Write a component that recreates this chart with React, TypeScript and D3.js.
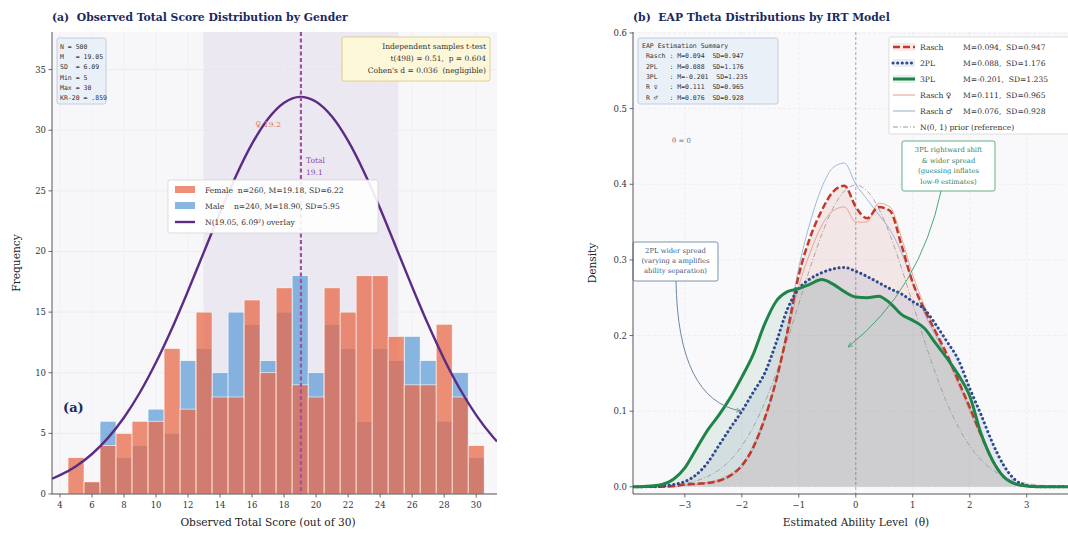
import React from 'react';
import * as d3 from 'd3';

// ---- panel (a) data ----
const scores = [5, 6, 7, 8, 9, 10, 11, 12, 13, 14, 15, 16, 17, 18, 19, 20, 21, 22, 23, 24, 25, 26, 27, 28, 29, 30];
const femaleCounts = [3, 1, 4, 5, 6, 6, 12, 7, 15, 8, 8, 16, 10, 17, 9, 8, 17, 15, 18, 18, 13, 9, 9, 14, 8, 4];
const maleCounts = [0, 1, 6, 3, 4, 7, 5, 11, 12, 10, 15, 14, 11, 15, 18, 10, 14, 12, 6, 12, 11, 13, 11, 6, 10, 3];
const overlayX = [3.5, 4, 5, 6, 7, 8, 9, 10, 11, 12, 13, 14, 15, 16, 17, 18, 19, 20, 21, 22, 23, 24, 25, 26, 27, 28, 29, 30, 31, 31.3];
const overlayY = [1.26, 1.55, 2.29, 3.3, 4.63, 6.31, 8.39, 10.86, 13.67, 16.76, 19.99, 23.22, 26.25, 28.89, 30.95, 32.27, 32.75, 32.35, 31.11, 29.12, 26.54, 23.54, 20.32, 17.08, 13.97, 11.12, 8.62, 6.51, 4.78, 4.33];
const xTicksA = [4, 6, 8, 10, 12, 14, 16, 18, 20, 22, 24, 26, 28, 30];
const yTicksA = [0, 5, 10, 15, 20, 25, 30, 35];
const totalMean = 19.05;
const totalSD = 6.09;

// ---- panel (b) data ----
const theta = [-4, -3.8, -3.6, -3.4, -3.2, -3, -2.8, -2.6, -2.4, -2.2, -2, -1.8, -1.6, -1.4, -1.2, -1, -0.8, -0.6, -0.4, -0.2, 0,
  0.2, 0.4, 0.6, 0.8, 1, 1.2, 1.4, 1.6, 1.8, 2, 2.2, 2.4, 2.6, 2.8, 3, 3.2, 3.4, 3.6, 3.8, 4];
const rasch = [0, 0, 0, 0, 0.001, 0.003, 0.004, 0.005, 0.008, 0.015, 0.028, 0.052, 0.09, 0.14, 0.205, 0.28, 0.33, 0.365, 0.39, 0.398, 0.37,
  0.355, 0.37, 0.365, 0.32, 0.27, 0.235, 0.205, 0.175, 0.14, 0.105, 0.068, 0.035, 0.013, 0.004, 0.001, 0, 0, 0, 0, 0];
const twoPL = [0, 0, 0, 0.001, 0.003, 0.007, 0.016, 0.032, 0.055, 0.078, 0.1, 0.125, 0.15, 0.19, 0.235, 0.262, 0.275, 0.283, 0.288, 0.29, 0.285,
  0.278, 0.27, 0.262, 0.255, 0.245, 0.235, 0.215, 0.192, 0.168, 0.13, 0.095, 0.058, 0.028, 0.009, 0.002, 0, 0, 0, 0, 0];
const threePL = [0, 0, 0.001, 0.003, 0.01, 0.025, 0.05, 0.075, 0.095, 0.118, 0.145, 0.175, 0.215, 0.245, 0.258, 0.262, 0.268, 0.274, 0.268, 0.258, 0.251,
  0.25, 0.252, 0.243, 0.228, 0.22, 0.21, 0.19, 0.17, 0.148, 0.12, 0.07, 0.035, 0.013, 0.004, 0.001, 0, 0, 0, 0, 0];
const raschF = [0, 0, 0, 0, 0, 0.002, 0.004, 0.006, 0.01, 0.017, 0.03, 0.055, 0.092, 0.14, 0.2, 0.265, 0.31, 0.345, 0.365, 0.37, 0.35,
  0.35, 0.375, 0.37, 0.33, 0.28, 0.24, 0.205, 0.17, 0.135, 0.1, 0.065, 0.034, 0.013, 0.004, 0.001, 0, 0, 0, 0, 0];
const raschM = [0, 0, 0, 0, 0, 0.002, 0.003, 0.005, 0.008, 0.014, 0.026, 0.05, 0.088, 0.14, 0.21, 0.29, 0.35, 0.395, 0.422, 0.428, 0.4,
  0.38, 0.36, 0.34, 0.31, 0.27, 0.23, 0.2, 0.17, 0.14, 0.105, 0.07, 0.037, 0.014, 0.004, 0.001, 0, 0, 0, 0, 0];
const prior = [0.0001, 0.0003, 0.0006, 0.0012, 0.0024, 0.0044, 0.0079, 0.0136, 0.0224, 0.0355, 0.054, 0.079, 0.1109, 0.1497, 0.1942, 0.242, 0.2897, 0.3332, 0.3683, 0.391, 0.3989,
  0.391, 0.3683, 0.3332, 0.2897, 0.242, 0.1942, 0.1497, 0.1109, 0.079, 0.054, 0.0355, 0.0224, 0.0136, 0.0079, 0.0044, 0.0024, 0.0012, 0.0006, 0.0003, 0.0001];
const xTicksB = [-3, -2, -1, 0, 1, 2, 3];
const yTicksB = [0, 0.1, 0.2, 0.3, 0.4, 0.5, 0.6];

const FONT = '"DejaVu Serif", serif';
const MONO = '"DejaVu Sans Mono", monospace';
const NAVY = '#1b2a5e';

const models = [
  { name: 'Rasch', stats: 'M=0.094,  SD=0.947', values: rasch, color: '#c0392b', width: 2.5, dash: '7,3', fill: true },
  { name: '2PL', stats: 'M=0.088,  SD=1.176', values: twoPL, color: '#2e4a8c', width: 3, dash: '0.1,4.5', fill: true },
  { name: '3PL', stats: 'M=-0.201,  SD=1.235', values: threePL, color: '#1e8449', width: 3, dash: '', fill: true },
  { name: 'Rasch ♀', stats: 'M=0.111,  SD=0.965', values: raschF, color: '#e59a86', width: 1, dash: '', fill: false },
  { name: 'Rasch ♂', stats: 'M=0.076,  SD=0.928', values: raschM, color: '#8eafd0', width: 1, dash: '', fill: false },
  { name: 'N(0, 1) prior (reference)', stats: '', values: prior, color: '#999999', width: 1, dash: '5,2,1,2', fill: false },
];

export default function App() {
  // panel (a)
  const xA = d3.scaleLinear().domain([3.5, 31.3]).range([52, 497]);
  const yA = d3.scaleLinear().domain([0, 38.1]).range([494, 32]);
  const overlayLine = d3.line<number>().x((_, i) => xA(overlayX[i])).y(d => yA(d)).curve(d3.curveMonotoneX);

  // panel (b)
  const xB = d3.scaleLinear().domain([-3.91, 3.9]).range([633, 1078]);
  const yB = d3.scaleLinear().domain([-0.0095, 0.6013]).range([494, 32]);
  const lineB = d3.line<number>().x((_, i) => xB(theta[i])).y(d => yB(d)).curve(d3.curveMonotoneX);
  const areaB = d3.area<number>().x((_, i) => xB(theta[i])).y0(yB(0)).y1(d => yB(d)).curve(d3.curveMonotoneX);

  const bw = xA(1) - xA(0);

  return (
    <svg width={1068} height={538} style={{ position: 'absolute', left: 0, top: 0, background: '#fff' }} fontFamily={FONT}>
      <defs>
        <clipPath id="clipA"><rect x={52} y={32} width={445} height={462} /></clipPath>
        <clipPath id="clipB"><rect x={633} y={32} width={445} height={462} /></clipPath>
        <marker id="arrBlue" viewBox="0 0 10 10" refX="9" refY="5" markerWidth="6" markerHeight="6" orient="auto">
          <path d="M0,1 L9,5 L0,9" fill="none" stroke="#5d7a9a" strokeWidth={1.2} />
        </marker>
        <marker id="arrGreen" viewBox="0 0 10 10" refX="9" refY="5" markerWidth="6" markerHeight="6" orient="auto">
          <path d="M0,1 L9,5 L0,9" fill="none" stroke="#3c9a6a" strokeWidth={1.2} />
        </marker>
      </defs>

      {/* ===== panel (a) ===== */}
      <text x={52} y={21} fontSize={10.8} fontWeight="bold" fill={NAVY} xmlSpace="preserve">(a)  Observed Total Score Distribution by Gender</text>
      <rect x={52} y={32} width={445} height={462} fill="#f7f7f9" />
      <rect x={xA(totalMean - totalSD)} y={32} width={xA(totalMean + totalSD) - xA(totalMean - totalSD)} height={462} fill="#ebe8f2" />
      {yTicksA.map(t => <line key={'ga' + t} x1={52} x2={497} y1={yA(t)} y2={yA(t)} stroke="#e4e4ea" strokeWidth={0.6} />)}
      {xTicksA.map(t => <line key={'gv' + t} x1={xA(t)} x2={xA(t)} y1={32} y2={494} stroke="#ececf0" strokeWidth={0.6} />)}
      <g clipPath="url(#clipA)">
        {scores.map((s, i) => (
          <rect key={'m' + s} x={xA(s - 0.5)} y={yA(maleCounts[i])} width={bw} height={yA(0) - yA(maleCounts[i])}
            fill="#5b9bd5" fillOpacity={0.72} stroke="#fff" strokeWidth={0.6} />
        ))}
        {scores.map((s, i) => (
          <rect key={'f' + s} x={xA(s - 0.5)} y={yA(femaleCounts[i])} width={bw} height={yA(0) - yA(femaleCounts[i])}
            fill="#e8694a" fillOpacity={0.75} stroke="#fff" strokeWidth={0.6} />
        ))}
        <path d={overlayLine(overlayY) || ''} fill="none" stroke="#5b2c83" strokeWidth={2.4} />
        <line x1={xA(totalMean)} x2={xA(totalMean)} y1={32} y2={494} stroke="#a4509f" strokeWidth={2.2} strokeDasharray="4,2.5" />
      </g>
      <text x={255} y={127} fontSize={8} fill="#e07a55">♀ 19.2</text>
      <text x={306} y={163} fontSize={7.5} fill="#8e44ad">Total</text>
      <text x={306} y={175} fontSize={7.5} fill="#8e44ad">19.1</text>
      <text x={63} y={412} fontSize={13} fontWeight="bold" fill={NAVY}>(a)</text>

      {/* stats box (a) */}
      <rect x={57} y={38} width={49} height={66} fill="#eaf0f8" stroke="#b8c4d6" strokeWidth={0.8} rx={2} />
      {['N = 500', 'M   = 19.05', 'SD  = 6.09', 'Min = 5', 'Max = 30', 'KR-20 = .859'].map((s, i) => (
        <text key={s} x={60} y={49 + i * 10.2} fontSize={6.5} fontFamily={MONO} fill="#333" xmlSpace="preserve">{s}</text>
      ))}

      {/* t-test box */}
      <rect x={342} y={37} width={148} height={44} fill="#fdf7d9" stroke="#d6c77e" strokeWidth={0.8} rx={2} />
      {['Independent samples t-test', 't(498) = 0.51,  p = 0.604', "Cohen's d = 0.036  (negligible)"].map((s, i) => (
        <text key={s} x={486} y={49 + i * 12} fontSize={7.5} textAnchor="end" fill="#333" xmlSpace="preserve">{s}</text>
      ))}

      {/* legend (a) */}
      <rect x={168} y={180} width={210} height={53} fill="#ffffff" fillOpacity={0.9} stroke="#d0d0d0" strokeWidth={0.7} rx={2} />
      <rect x={175} y={186} width={20} height={7} fill="#e8694a" fillOpacity={0.75} />
      <rect x={175} y={202} width={20} height={7} fill="#5b9bd5" fillOpacity={0.72} />
      <line x1={175} x2={195} y1={222} y2={222} stroke="#5b2c83" strokeWidth={2.4} />
      <text x={205} y={193} fontSize={7.6} fill="#333" xmlSpace="preserve">Female  n=260, M=19.18, SD=6.22</text>
      <text x={205} y={209} fontSize={7.6} fill="#333" xmlSpace="preserve">Male    n=240, M=18.90, SD=5.95</text>
      <text x={205} y={225} fontSize={7.6} fill="#333">N(19.05, 6.09²) overlay</text>

      {/* axes (a) */}
      <line x1={52} x2={52} y1={32} y2={494} stroke="#444" strokeWidth={0.9} />
      <line x1={52} x2={497} y1={494} y2={494} stroke="#444" strokeWidth={0.9} />
      {yTicksA.map(t => (
        <g key={'ya' + t}>
          <line x1={48.5} x2={52} y1={yA(t)} y2={yA(t)} stroke="#444" strokeWidth={0.8} />
          <text x={46} y={yA(t) + 3} fontSize={8.5} textAnchor="end" fill="#333">{t}</text>
        </g>
      ))}
      {xTicksA.map(t => (
        <g key={'xa' + t}>
          <line x1={xA(t)} x2={xA(t)} y1={494} y2={497.5} stroke="#444" strokeWidth={0.8} />
          <text x={xA(t)} y={508} fontSize={8.5} textAnchor="middle" fill="#333">{t}</text>
        </g>
      ))}
      <text x={268} y={526} fontSize={10.6} textAnchor="middle" fill="#222">Observed Total Score (out of 30)</text>
      <text transform="translate(20,263) rotate(-90)" fontSize={10.6} textAnchor="middle" fill="#222">Frequency</text>

      {/* ===== panel (b) ===== */}
      <text x={633} y={21} fontSize={10.8} fontWeight="bold" fill={NAVY} xmlSpace="preserve">(b)  EAP Theta Distributions by IRT Model</text>
      <rect x={633} y={32} width={445} height={462} fill="#f9f9fb" />
      {yTicksB.map(t => <line key={'gb' + t} x1={633} x2={1078} y1={yB(t)} y2={yB(t)} stroke="#e6e6ec" strokeWidth={0.6} strokeDasharray="3,2" />)}
      {xTicksB.map(t => <line key={'gbv' + t} x1={xB(t)} x2={xB(t)} y1={32} y2={494} stroke="#e6e6ec" strokeWidth={0.6} strokeDasharray="3,2" />)}
      <line x1={xB(0)} x2={xB(0)} y1={32} y2={494} stroke="#a0a0a0" strokeWidth={0.9} strokeDasharray="3,2" />
      <g clipPath="url(#clipB)">
        {models.filter(m => m.fill).map(m => (
          <path key={'a' + m.name} d={areaB(m.values) || ''} fill={m.color} fillOpacity={0.095} />
        ))}
        {[5, 4, 3, 0, 1, 2].map(k => {
          const m = models[k];
          return (
            <path key={'l' + m.name} d={lineB(m.values) || ''} fill="none" stroke={m.color} strokeWidth={m.width}
              strokeDasharray={m.dash || undefined} strokeLinecap={m.name === '2PL' ? 'round' : 'butt'} strokeOpacity={m.fill ? 1 : 0.85} />
          );
        })}
      </g>
      <text x={672} y={143} fontSize={7} fill="#777">θ = 0</text>

      {/* stats box (b) */}
      <rect x={638} y={38} width={140} height={66} fill="#eaf0f8" stroke="#b8c4d6" strokeWidth={0.8} rx={2} />
      {['EAP Estimation Summary', ' Rasch : M=0.094  SD=0.947', ' 2PL   : M=0.088  SD=1.176', ' 3PL   : M=-0.201  SD=1.235', ' R ♀   : M=0.111  SD=0.965', ' R ♂   : M=0.076  SD=0.928'].map((s, i) => (
        <text key={s} x={642} y={48 + i * 10.3} fontSize={6.5} fontFamily={MONO} fill="#333" xmlSpace="preserve">{s}</text>
      ))}

      {/* legend (b) */}
      <rect x={889} y={37} width={185} height={97} fill="#ffffff" fillOpacity={0.9} stroke="#d0d0d0" strokeWidth={0.7} rx={2} />
      {models.map((m, i) => {
        const y = 47 + i * 16;
        return (
          <g key={'lg' + m.name}>
            {m.fill && <rect x={893} y={y - 4} width={22} height={8} fill={m.color} fillOpacity={0.1} />}
            <line x1={893} x2={915} y1={y} y2={y} stroke={m.color} strokeWidth={m.width} strokeDasharray={m.dash || undefined}
              strokeLinecap={m.name === '2PL' ? 'round' : 'butt'} />
            <text x={920} y={y + 3} fontSize={7.6} fill="#333">{m.name}</text>
            {m.stats && <text x={963} y={y + 3} fontSize={7.6} fill="#333" xmlSpace="preserve">{m.stats}</text>}
          </g>
        );
      })}

      {/* annotations */}
      <path d="M676,281 Q678,400 741,411" fill="none" stroke="#5d7a9a" strokeWidth={0.9} markerEnd="url(#arrBlue)" />
      <rect x={633} y={242} width={85} height={39} fill="#ffffff" stroke="#5d7a9a" strokeWidth={0.8} rx={2} />
      {['2PL wider spread', '(varying a amplifies', 'ability separation)'].map((s, i) => (
        <text key={s} x={675.5} y={253 + i * 10} fontSize={6.8} textAnchor="middle" fill="#3b5a7a">{s}</text>
      ))}
      <path d="M941,191 Q920,290 848,347" fill="none" stroke="#3c9a6a" strokeWidth={0.9} markerEnd="url(#arrGreen)" />
      <rect x={902} y={141} width={93} height={50} fill="#ffffff" stroke="#3c9a6a" strokeWidth={0.8} rx={2} />
      {['3PL rightward shift', '& wider spread', '(guessing inflates', 'low-θ estimates)'].map((s, i) => (
        <text key={s} x={948.5} y={152 + i * 10.5} fontSize={6.8} textAnchor="middle" fill="#2e7d5b">{s}</text>
      ))}

      {/* axes (b) */}
      <line x1={633} x2={633} y1={32} y2={494} stroke="#444" strokeWidth={0.9} />
      <line x1={633} x2={1068} y1={494} y2={494} stroke="#444" strokeWidth={0.9} />
      {yTicksB.map(t => (
        <g key={'yb' + t}>
          <line x1={629.5} x2={633} y1={yB(t)} y2={yB(t)} stroke="#444" strokeWidth={0.8} />
          <text x={627} y={yB(t) + 3} fontSize={8.5} textAnchor="end" fill="#333">{t.toFixed(1)}</text>
        </g>
      ))}
      {xTicksB.map(t => (
        <g key={'xb' + t}>
          <line x1={xB(t)} x2={xB(t)} y1={494} y2={497.5} stroke="#444" strokeWidth={0.8} />
          <text x={xB(t)} y={508} fontSize={8.5} textAnchor="middle" fill="#333">{t < 0 ? '−' + Math.abs(t) : t}</text>
        </g>
      ))}
      <text x={856} y={526} fontSize={10.6} textAnchor="middle" fill="#222" xmlSpace="preserve">Estimated Ability Level  (θ)</text>
      <text transform="translate(596,263) rotate(-90)" fontSize={10.6} textAnchor="middle" fill="#222">Density</text>
    </svg>
  );
}
